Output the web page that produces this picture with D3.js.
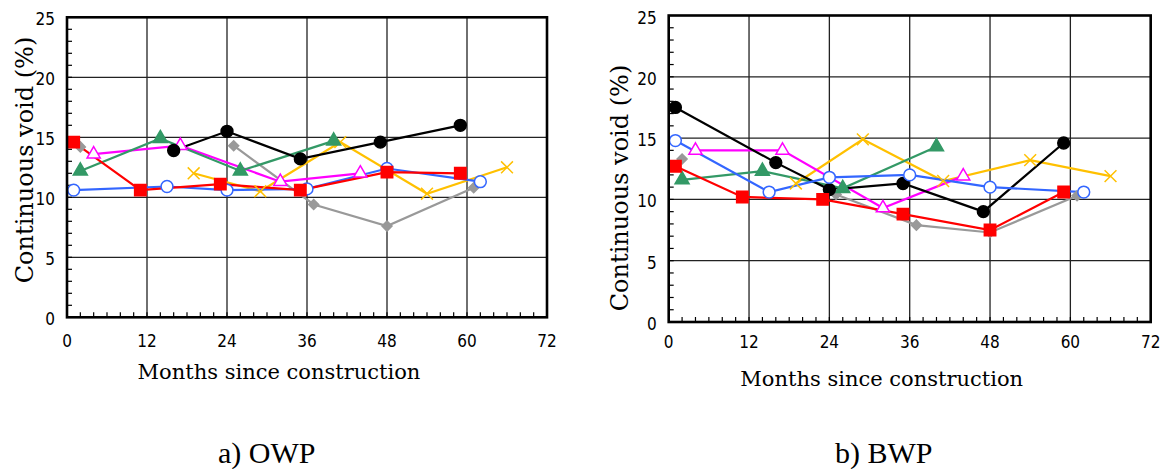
<!DOCTYPE html>
<html>
<head>
<meta charset="utf-8">
<script src="https://cdn.jsdelivr.net/npm/d3@7"></script>
<style>
  body { margin: 0; background: #fff; }
  .tick-label { font-family: "Liberation Sans Narrow", "DejaVu Sans Condensed", sans-serif; font-size: 17px; fill: #000; }
  .axis-title { font-family: "DejaVu Serif", serif; font-size: 21px; fill: #000; }
  .y-title { font-size: 24px; }
  .caption { font-family: "Liberation Serif", "Times New Roman", serif; font-size: 30px; fill: #000; }
</style>
</head>
<body>
<svg id="chart" width="1165" height="469"></svg>
<script>
// tick values
const monthTicks = [0, 12, 24, 36, 48, 60, 72];
const voidTicks = [0, 5, 10, 15, 20, 25];

// a) OWP  [month, continuous void %], null = gap
const owpBlack = [[16, 13.9], [24, 15.5], [35, 13.2], [47, 14.6], [59, 16.0]];
const owpBlue = [[1, 10.6], [15, 10.9], [24, 10.6], [36, 10.7], [48, 12.4], [62, 11.3]];
const owpRed = [[1, 14.6], [11, 10.6], [23, 11.1], [35, 10.6], [48, 12.1], [59, 12.0]];
const owpGray = [[2, 14.2], null, [25, 14.3], [37, 9.4], [48, 7.6], [61, 10.8]];
const owpGreen = [[2, 12.2], [14, 14.9], [26, 12.2], [40, 14.7]];
const owpMagenta = [[4, 13.6], [17, 14.3], [32, 11.3], [44, 12.0]];
const owpYellow = [[19, 12.0], [29, 10.5], [41, 14.6], [54, 10.3], [66, 12.5]];

// b) BWP
const bwpBlack = [[1, 17.5], [16, 13.0], [24, 10.8], [35, 11.3], [47, 9.0], [59, 14.6]];
const bwpBlue = [[1, 14.8], [15, 10.6], [24, 11.8], [36, 12.0], [48, 11.0], [62, 10.6]];
const bwpRed = [[1, 12.7], [11, 10.2], [23, 10.0], [35, 8.8], [48, 7.5], [59, 10.6]];
const bwpGray = [[2, 13.3], null, [25, 10.4], [37, 7.9], [48, 7.3], [61, 10.3]];
const bwpGreen = [[2, 11.6], [14, 12.3], [26, 10.9], [40, 14.3]];
const bwpMagenta = [[4, 14.0], [17, 14.0], [32, 9.3], [44, 11.9]];
const bwpYellow = [[19, 11.3], [29, 14.9], [41, 11.5], [54, 13.2], [66, 11.9]];

const svg = d3.select("#chart");

// X-shaped marker
const symbolX = {
  draw(ctx, size) {
    const r = Math.sqrt(size) / 2;
    ctx.moveTo(-r, -r); ctx.lineTo(r, r);
    ctx.moveTo(r, -r); ctx.lineTo(-r, r);
  }
};
// square rotated 45 degrees
const symbolRhomb = {
  draw(ctx, size) {
    const r = Math.sqrt(size) / 2;
    ctx.moveTo(0, -r); ctx.lineTo(r, 0); ctx.lineTo(0, r); ctx.lineTo(-r, 0);
    ctx.closePath();
  }
};

const styles = {
  gray:    { color: "#999999", type: symbolRhomb, size: 100, fill: "#999999" },
  yellow:  { color: "#ffc000", type: symbolX, size: 140, fill: "none" },
  magenta: { color: "#ff00ff", type: d3.symbolTriangle, size: 75, fill: "#fff" },
  green:   { color: "#339966", type: d3.symbolTriangle, size: 85, fill: "#339966" },
  black:   { color: "#000000", type: d3.symbolCircle, size: 110, fill: "#000" },
  blue:    { color: "#3366ff", type: d3.symbolCircle, size: 110, fill: "#fff" },
  red:     { color: "#ff0000", type: d3.symbolSquare, size: 130, fill: "#ff0000" }
};

function drawPanel(p) {
  const x = d3.scaleLinear().domain([0, 72]).range([p.left, p.right]);
  const y = d3.scaleLinear().domain([0, 25]).range([p.bottom, p.top]);
  const g = svg.append("g");

  // grid
  g.selectAll(".gx").data(monthTicks.slice(1, -1)).enter().append("line")
    .attr("x1", d => x(d)).attr("x2", d => x(d))
    .attr("y1", p.top).attr("y2", p.bottom)
    .attr("stroke", "#222").attr("stroke-width", 1.3);
  g.selectAll(".gy").data(voidTicks.slice(1, -1)).enter().append("line")
    .attr("x1", p.left).attr("x2", p.right)
    .attr("y1", d => y(d)).attr("y2", d => y(d))
    .attr("stroke", "#222").attr("stroke-width", 1.3);

  // minor ticks (inward)
  g.selectAll(".ty").data(d3.range(1, 25)).enter().append("line")
    .attr("x1", p.left).attr("x2", p.left + 5)
    .attr("y1", d => y(d)).attr("y2", d => y(d))
    .attr("stroke", "#000").attr("stroke-width", 1.2);
  g.selectAll(".tx").data(d3.range(2, 72, 2)).enter().append("line")
    .attr("x1", d => x(d)).attr("x2", d => x(d))
    .attr("y1", p.bottom).attr("y2", p.bottom - 5)
    .attr("stroke", "#000").attr("stroke-width", 1.2);

  // tick labels
  g.selectAll(".lx").data(monthTicks).enter().append("text")
    .attr("class", "tick-label")
    .attr("x", d => x(d)).attr("y", p.xLabelY)
    .attr("text-anchor", "middle")
    .text(d => d);
  g.selectAll(".ly").data(voidTicks).enter().append("text")
    .attr("class", "tick-label")
    .attr("x", p.left - 12).attr("y", d => y(d) + 8)
    .attr("text-anchor", "end")
    .text(d => d);

  // series
  const line = d3.line()
    .defined(d => d !== null)
    .x(d => x(d[0])).y(d => y(d[1]));

  p.series.forEach(s => {
    const st = styles[s.style];
    g.append("path")
      .attr("d", line(s.data))
      .attr("fill", "none")
      .attr("stroke", st.color)
      .attr("stroke-width", 2.2);
  });
  p.series.forEach(s => {
    const st = styles[s.style];
    g.selectAll(null).data(s.data.filter(d => d !== null)).enter().append("path")
      .attr("transform", d => `translate(${x(d[0])},${y(d[1])})`)
      .attr("d", d3.symbol().type(st.type).size(st.size))
      .attr("fill", st.fill)
      .attr("stroke", st.color)
      .attr("stroke-width", 1.5);
  });

  // frame
  g.append("rect")
    .attr("x", p.left).attr("y", p.top)
    .attr("width", p.right - p.left).attr("height", p.bottom - p.top)
    .attr("fill", "none").attr("stroke", "#000").attr("stroke-width", 2.6);

  // titles
  g.append("text").attr("class", "axis-title")
    .attr("x", (p.left + p.right) / 2 - 28).attr("y", p.xTitleY)
    .attr("text-anchor", "middle")
    .text("Months since construction");
  g.append("text").attr("class", "axis-title y-title")
    .attr("transform", `translate(${p.yTitleX},${p.yTitleCY}) rotate(-90)`)
    .attr("text-anchor", "middle")
    .text("Continuous void (%)");
  g.append("text").attr("class", "caption")
    .attr("x", p.captionX).attr("y", 463)
    .text(p.caption);
}

drawPanel({
  left: 67, right: 547, top: 17.3, bottom: 317.3,
  xLabelY: 347, xTitleY: 379, yTitleX: 33, yTitleCY: 160,
  captionX: 218, caption: "a) OWP",
  series: [
    { style: "gray", data: owpGray },
    { style: "yellow", data: owpYellow },
    { style: "magenta", data: owpMagenta },
    { style: "green", data: owpGreen },
    { style: "black", data: owpBlack },
    { style: "blue", data: owpBlue },
    { style: "red", data: owpRed }
  ]
});

drawPanel({
  left: 668.7, right: 1150.7, top: 15.5, bottom: 322,
  xLabelY: 348, xTitleY: 386, yTitleX: 628, yTitleCY: 188,
  captionX: 835, caption: "b) BWP",
  series: [
    { style: "gray", data: bwpGray },
    { style: "yellow", data: bwpYellow },
    { style: "magenta", data: bwpMagenta },
    { style: "green", data: bwpGreen },
    { style: "black", data: bwpBlack },
    { style: "blue", data: bwpBlue },
    { style: "red", data: bwpRed }
  ]
});
</script>
</body>
</html>
